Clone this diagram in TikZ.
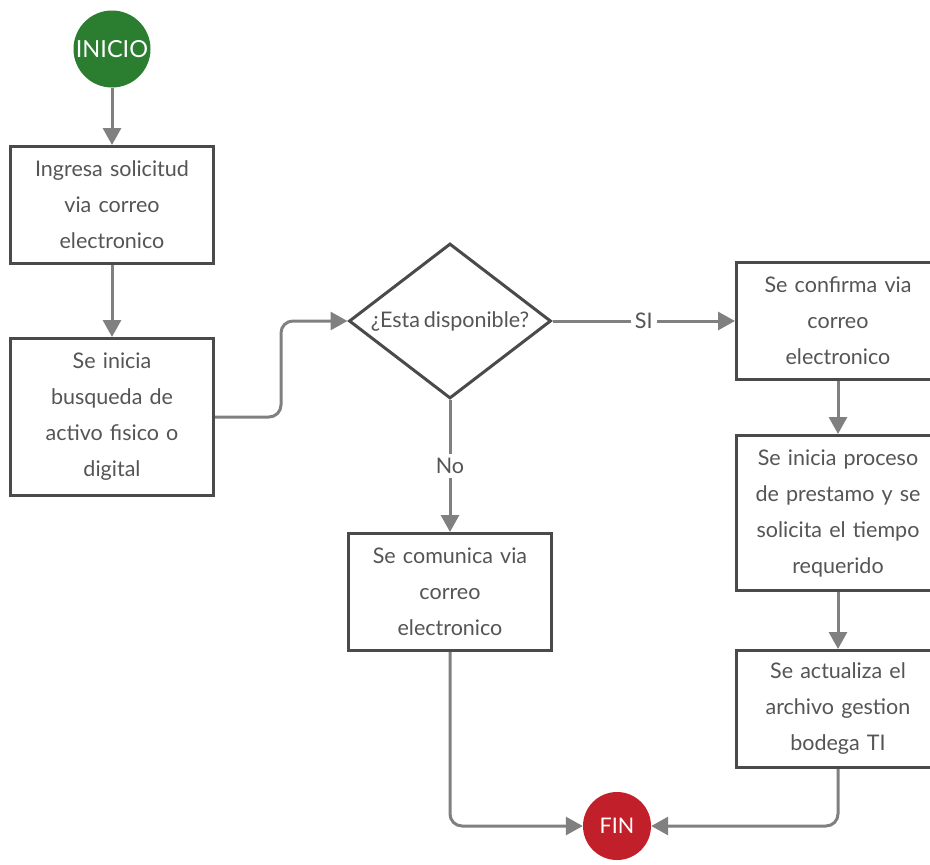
\documentclass[tikz,border=0pt]{standalone}
\usepackage{fontspec}
\setmainfont{Lato}[WordSpace=0.7]
\usetikzlibrary{arrows.meta,shapes.geometric}
\definecolor{boxline}{HTML}{4A4A4A}
\definecolor{flowgray}{HTML}{808080}
\definecolor{txtgray}{HTML}{555555}
\definecolor{startgreen}{HTML}{2B7D2F}
\definecolor{endred}{HTML}{C1202B}
\begin{document}
\begin{tikzpicture}[x=1pt,y=1pt,
        font=\fontsize{21.5}{36}\selectfont,
        stepbox/.style={draw=boxline,line width=3pt,fill=white,text=txtgray,
            minimum width=203pt,minimum height=117pt,text width=196pt,align=center,inner sep=0pt},
        ends/.style={circle,text=white,inner sep=0pt},
        flow/.style={draw=flowgray,line width=3pt,-{Triangle[length=17pt,width=18pt]}},
        tag/.style={fill=white,text=txtgray,inner sep=4pt}]
    \useasboundingbox (0,0) rectangle (930,-865);
    \node[ends,fill=startgreen,minimum size=77pt,font=\fontsize{23.5}{24}\selectfont] (ini) at (112,-49) {INICIO};
    \node[stepbox] (b1) at (112,-205) {Ingresa solicitud\\via correo\\electronico};
    \node[stepbox,minimum height=157pt] (b2) at (112,-417) {Se inicia\\busqueda de\\activo fisico o\\digital};
    \node[diamond,draw=boxline,line width=3pt,minimum width=202pt,minimum height=155pt,inner sep=0pt] (q) at (450,-321) {};
    \node[text=txtgray] at (q) {¿Esta disponible?};
    \node[stepbox] (b3) at (838,-321) {Se confirma via\\correo\\electronico};
    \node[stepbox,minimum height=155pt] (b4) at (838,-513) {Se inicia proceso\\de prestamo y se\\solicita el tiempo\\requerido};
    \node[stepbox] (b5) at (838,-709) {Se actualiza el\\archivo gestion\\bodega TI};
    \node[stepbox] (b6) at (450,-592) {Se comunica via\\correo\\electronico};
    \node[ends,fill=endred,minimum size=68pt] (fin) at (617,-826) {FIN};
    % conectores
    \draw[flow] (ini) -- (b1);
    \draw[flow] (b1) -- (b2);
    \draw[flow,rounded corners=12pt] (b2.east) -- (281,-417) |- (q.west);
    \draw[flow] (q.east) -- node[tag]{SI} (b3.west);
    \draw[flow] (q.south) -- node[tag,pos=.5]{No} (b6.north);
    \draw[flow] (b3) -- (b4);
    \draw[flow] (b4) -- (b5);
    \draw[flow,rounded corners=12pt] (b6.south) |- (fin.west);
    \draw[flow,rounded corners=12pt] (b5.south) |- (fin.east);
\end{tikzpicture}
\end{document}
